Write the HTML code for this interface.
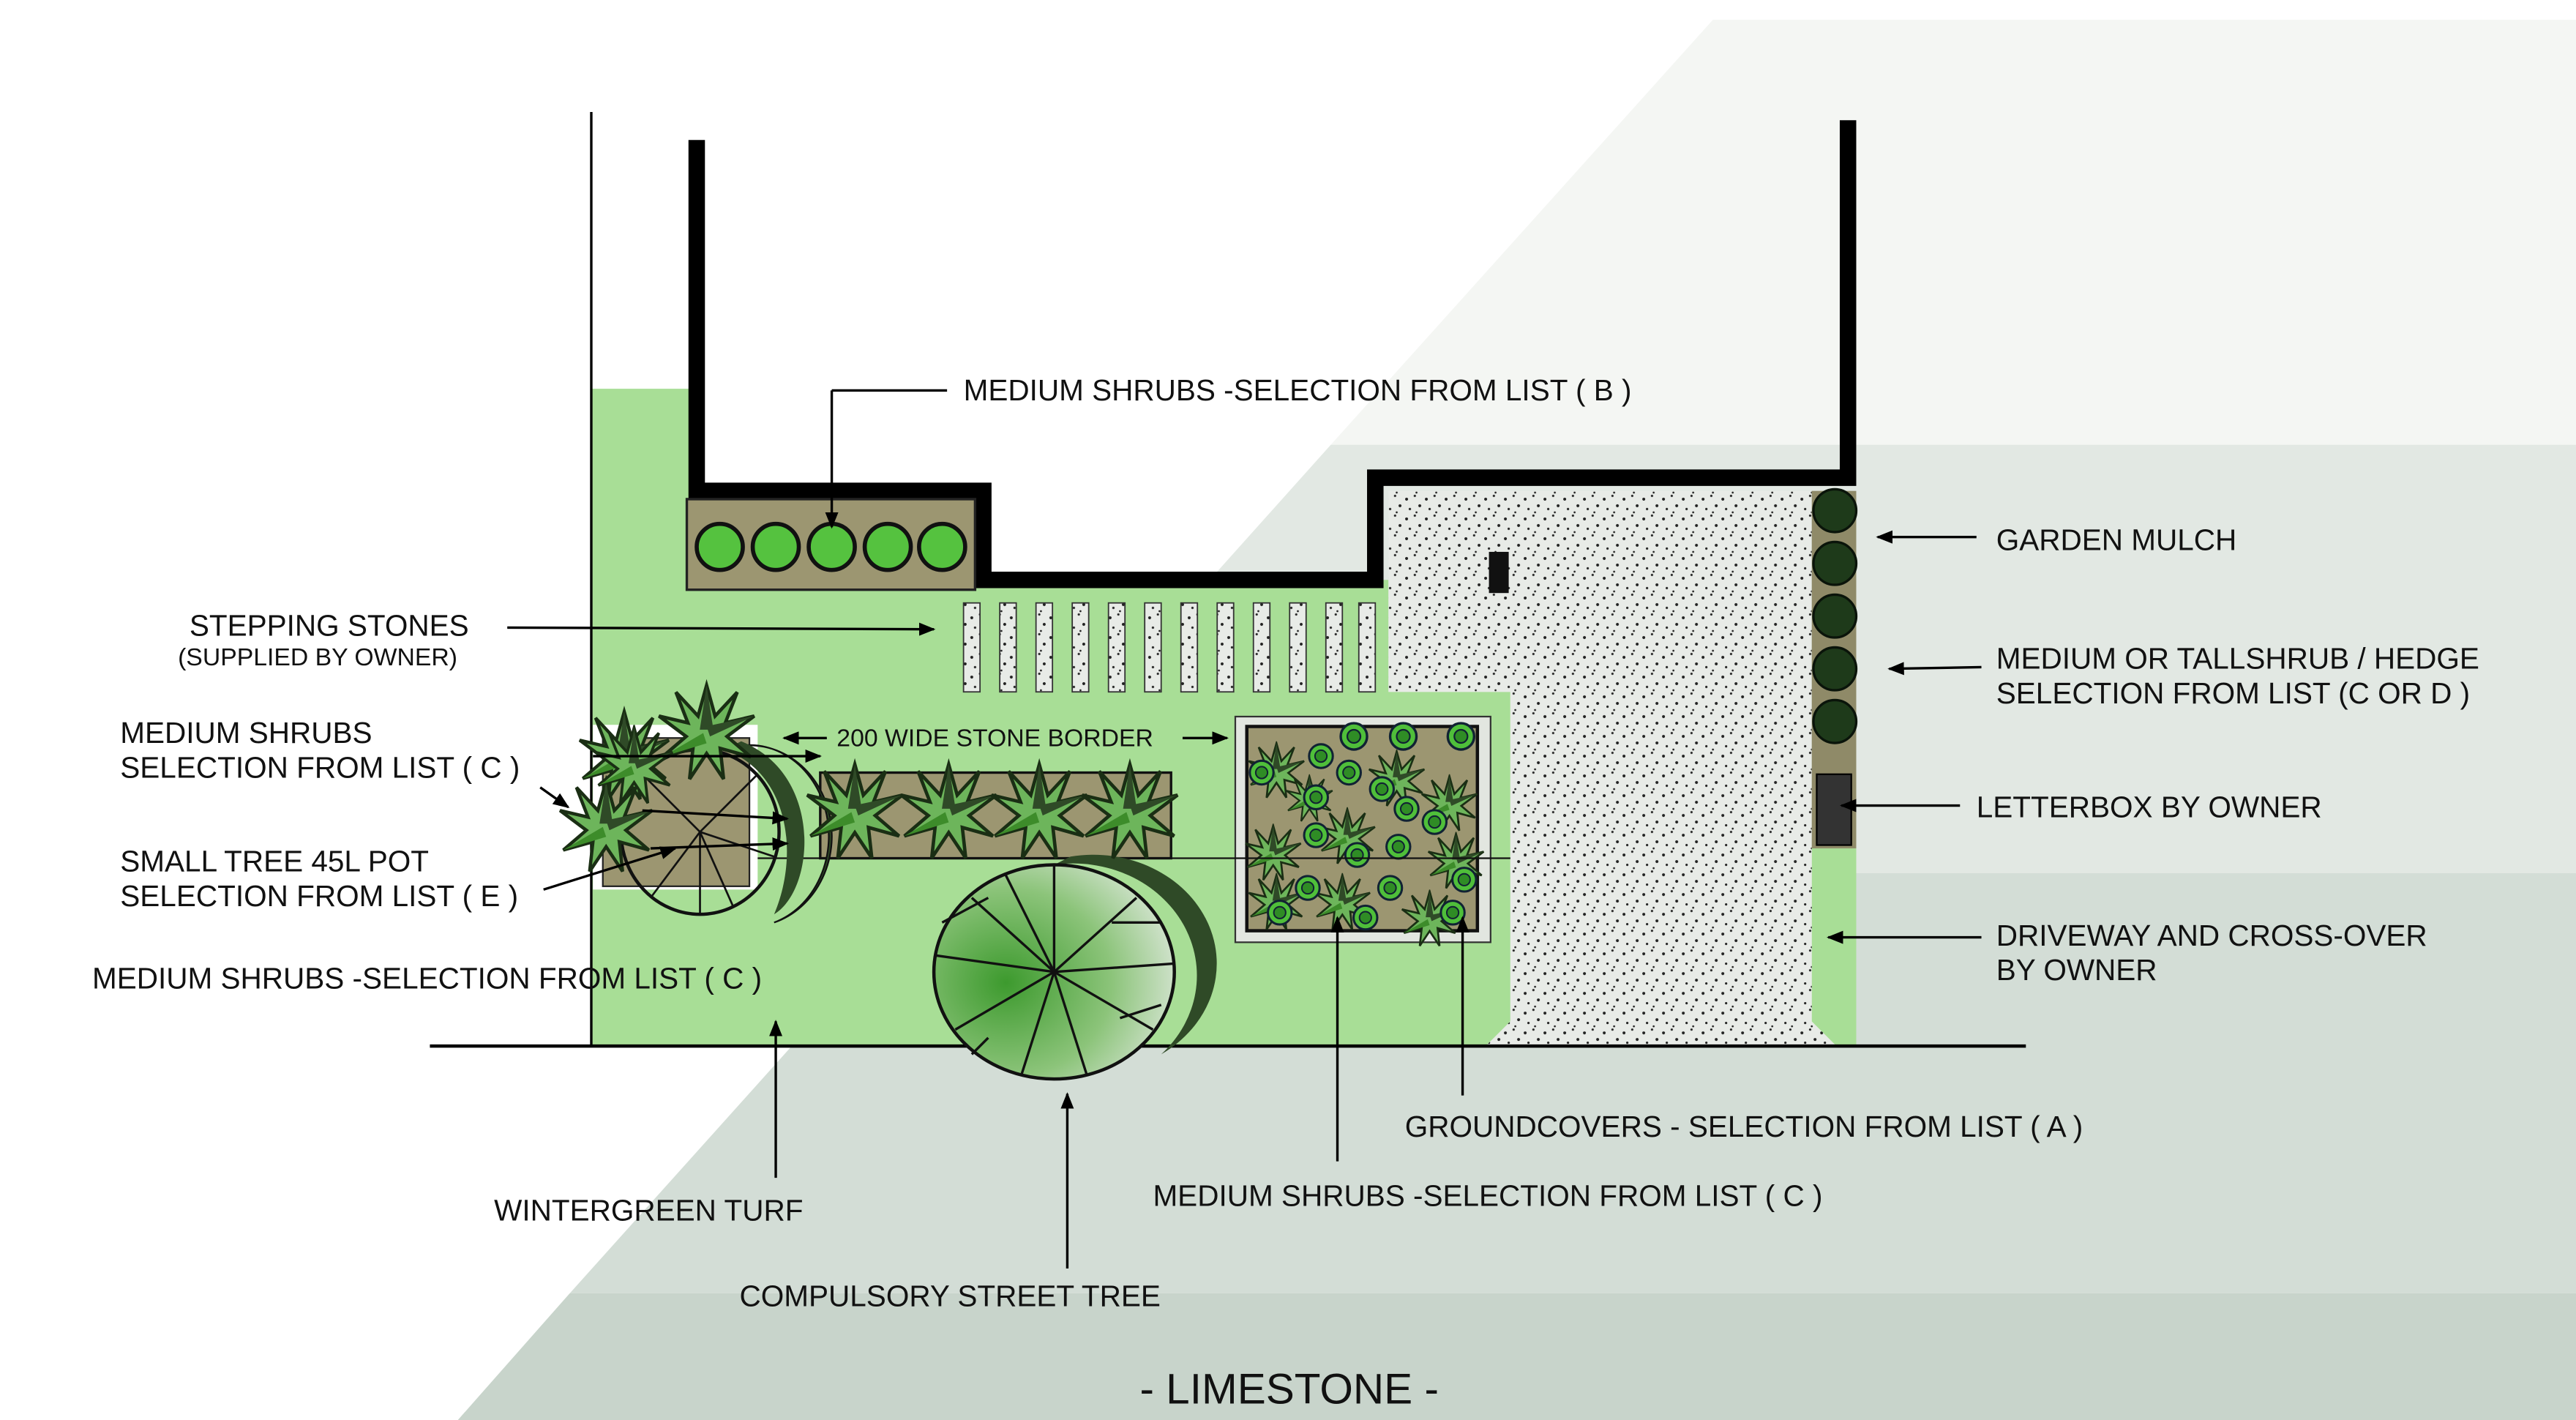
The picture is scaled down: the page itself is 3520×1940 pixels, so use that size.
<!DOCTYPE html>
<html><head><meta charset="utf-8"><style>
html,body{margin:0;padding:0;background:#fff;}
svg{display:block;}
text{font-family:"Liberation Sans",sans-serif;fill:#111;}
</style></head><body>
<svg width="3520" height="1940" viewBox="0 0 1564 862" preserveAspectRatio="none" xmlns="http://www.w3.org/2000/svg">
<defs>
<marker id="ar" markerWidth="10" markerHeight="8" refX="9" refY="4" orient="auto" markerUnits="userSpaceOnUse">
<path d="M0,0 L10,4 L0,8 Z" fill="#000"/></marker>
<radialGradient id="tg" cx="0.3" cy="0.55" r="0.8">
<stop offset="0" stop-color="#3d9a2e"/><stop offset="0.55" stop-color="#8cc47a"/><stop offset="1" stop-color="#e6ece6"/></radialGradient>
<pattern id="dots" width="12" height="12" patternUnits="userSpaceOnUse">
<rect width="12" height="12" fill="#e8ebe7"/>
<circle cx="2" cy="3" r="0.9" fill="#222"/><circle cx="7" cy="1" r="0.7" fill="#222"/><circle cx="10" cy="7" r="0.9" fill="#222"/><circle cx="4" cy="9" r="0.7" fill="#222"/><circle cx="8" cy="11" r="0.6" fill="#222"/></pattern>
<symbol id="star" viewBox="-30 -30 60 60">
<polygon points="0,-28 5,-10 18,-24 11,-6 28,-10 12,2 26,14 8,9 10,27 0,12 -10,27 -8,9 -26,14 -12,2 -28,-10 -11,-6 -18,-24 -5,-10" fill="#6db55b" stroke="#1a2e14" stroke-width="2"/>
<polygon points="0,-28 4,-2 -4,-2" fill="#2f4a27"/><polygon points="28,-10 2,2 0,-4" fill="#2f4a27"/><polygon points="-26,14 -2,0 0,6" fill="#3d8c2a"/>
</symbol>
<symbol id="gc" viewBox="-10 -10 20 20">
<circle r="8" fill="#4fbf3a" stroke="#123" stroke-width="1.5"/><circle r="4" fill="#2f8c25" stroke="#123" stroke-width="1"/></symbol>
</defs>
<!-- background bands -->
<rect width="1564" height="862" fill="#fff"/>
<polygon points="1040,12 1564,12 1564,270 808,270" fill="#f4f6f3"/>
<polygon points="808,270 1564,270 1564,530 575,530" fill="#e2e8e3"/>
<polygon points="575,530 1564,530 1564,785 346,785" fill="#d3ddd6"/>
<polygon points="346,785 1564,785 1564,862 278,862" fill="#c8d4cb"/>
<!-- turf -->
<path d="M359,236 L423,236 L423,298 L597,298 L597,352 L843,352 L843,420 L917,420 L917,620 L902,635 L359,635 Z" fill="#a8de96"/>
<rect x="1100" y="515" width="27" height="120" fill="#a8de96"/>
<!-- gravel -->
<path d="M843,298 L1100,298 L1100,620 L1115,635 L902,635 L917,620 L917,420 L843,420 Z" fill="url(#dots)"/>
<!-- walls -->
<line x1="359" y1="68" x2="359" y2="635" stroke="#000" stroke-width="1.5"/>
<polyline points="423,85 423,298 597,298 597,352 835,352 835,290 1122,290 1122,73" fill="none" stroke="#000" stroke-width="10"/>
<line x1="261" y1="635" x2="1230" y2="635" stroke="#000" stroke-width="2"/>
<rect x="904" y="335" width="12" height="25" fill="#111"/>
<!-- planter B -->
<rect x="417" y="303" width="175" height="55" fill="#9c9671" stroke="#222" stroke-width="1.5"/>
<g fill="#55c23f" stroke="#111" stroke-width="2.5">
<circle cx="437" cy="332" r="14"/><circle cx="471" cy="332" r="14"/><circle cx="505" cy="332" r="14"/><circle cx="539" cy="332" r="14"/><circle cx="572" cy="332" r="14"/></g>
<!-- hedge strip -->
<rect x="1100" y="298" width="27" height="217" fill="#8f8a68"/>
<g fill="#1e3a1a" stroke="#0a140a" stroke-width="1.5">
<circle cx="1114" cy="310" r="13"/><circle cx="1114" cy="342" r="13"/><circle cx="1114" cy="374" r="13"/><circle cx="1114" cy="406" r="13"/><circle cx="1114" cy="438" r="13"/></g>
<rect x="1103" y="470" width="21" height="43" fill="#333" stroke="#000"/>
<!-- stepping stones -->
<g fill="url(#dots)" stroke="#333" stroke-width="0.8">
<rect x="585" y="366" width="10" height="54"/><rect x="607" y="366" width="10" height="54"/><rect x="629" y="366" width="10" height="54"/><rect x="651" y="366" width="10" height="54"/><rect x="673" y="366" width="10" height="54"/><rect x="695" y="366" width="10" height="54"/><rect x="717" y="366" width="10" height="54"/><rect x="739" y="366" width="10" height="54"/><rect x="761" y="366" width="10" height="54"/><rect x="783" y="366" width="10" height="54"/><rect x="805" y="366" width="10" height="54"/><rect x="825" y="366" width="10" height="54"/></g>
<!-- groundcover planter -->
<rect x="750" y="435" width="155" height="137" fill="#e2e6e0" stroke="#333" stroke-width="1"/>
<rect x="757" y="441" width="140" height="124" fill="#9c9671" stroke="#111" stroke-width="2"/>
<g>
<use href="#star" x="757" y="450" width="36" height="36"/><use href="#star" x="830" y="455" width="36" height="36"/><use href="#star" x="862" y="470" width="36" height="36"/>
<use href="#star" x="755" y="500" width="36" height="36"/><use href="#star" x="800" y="490" width="36" height="36"/><use href="#star" x="866" y="505" width="36" height="36"/>
<use href="#star" x="757" y="530" width="36" height="36"/><use href="#star" x="797" y="530" width="36" height="36"/><use href="#star" x="850" y="540" width="36" height="36"/><use href="#star" x="780" y="470" width="30" height="30"/>
<use href="#gc" x="812" y="437" width="20" height="20"/><use href="#gc" x="842" y="437" width="20" height="20"/><use href="#gc" x="877" y="437" width="20" height="20"/>
<use href="#gc" x="793" y="450" width="18" height="18"/><use href="#gc" x="810" y="460" width="18" height="18"/><use href="#gc" x="757" y="460" width="18" height="18"/>
<use href="#gc" x="790" y="475" width="18" height="18"/><use href="#gc" x="845" y="482" width="18" height="18"/><use href="#gc" x="830" y="470" width="18" height="18"/>
<use href="#gc" x="790" y="498" width="18" height="18"/><use href="#gc" x="840" y="505" width="18" height="18"/><use href="#gc" x="862" y="490" width="18" height="18"/>
<use href="#gc" x="815" y="510" width="18" height="18"/><use href="#gc" x="785" y="530" width="18" height="18"/><use href="#gc" x="835" y="530" width="18" height="18"/>
<use href="#gc" x="880" y="525" width="18" height="18"/><use href="#gc" x="873" y="545" width="18" height="18"/><use href="#gc" x="768" y="545" width="18" height="18"/><use href="#gc" x="820" y="548" width="18" height="18"/></g>
<!-- border bed -->
<rect x="498" y="469" width="213" height="52" fill="#9c9671" stroke="#111" stroke-width="1.5"/>
<!-- thin line -->
<line x1="455" y1="521" x2="917" y2="521" stroke="#111" stroke-width="1"/>
<!-- street tree -->
<path d="M650,520 A75,66 0 0 1 705,640 A75,68 0 0 0 640,525 Z" fill="#2f4a27"/>
<ellipse cx="640" cy="590" rx="73" ry="65" fill="url(#tg)" stroke="#111" stroke-width="2"/>
<g stroke="#111" stroke-width="1.5">
<line x1="640" y1="590" x2="640" y2="525"/><line x1="640" y1="590" x2="690" y2="545"/><line x1="640" y1="590" x2="712" y2="585"/><line x1="640" y1="590" x2="700" y2="625"/><line x1="640" y1="590" x2="660" y2="653"/><line x1="640" y1="590" x2="620" y2="653"/><line x1="640" y1="590" x2="580" y2="625"/><line x1="640" y1="590" x2="568" y2="580"/><line x1="640" y1="590" x2="590" y2="545"/><line x1="640" y1="590" x2="610" y2="530"/>
<line x1="600" y1="545" x2="572" y2="560"/><line x1="680" y1="618" x2="705" y2="610"/><line x1="675" y1="560" x2="705" y2="560"/><line x1="600" y1="630" x2="590" y2="640"/></g>
<!-- small tree with pot -->
<rect x="360" y="440" width="100" height="100" fill="#fff"/>
<rect x="366" y="448" width="89" height="90" fill="#9c9671" stroke="#222" stroke-width="1"/>
<path d="M440,455 A50,55 0 0 1 470,560 A48,55 0 0 0 440,455 Z" fill="#2f4a27" stroke="#111"/>
<path d="M450,450 C500,470 495,540 470,555 C485,520 480,470 440,455 Z" fill="#2f4a27"/>
<ellipse cx="425" cy="505" rx="48" ry="50" fill="none" stroke="#111" stroke-width="2"/>
<g stroke="#111" stroke-width="1.2">
<line x1="425" y1="505" x2="390" y2="470"/><line x1="425" y1="505" x2="460" y2="470"/><line x1="425" y1="505" x2="395" y2="545"/><line x1="425" y1="505" x2="445" y2="550"/><line x1="425" y1="505" x2="425" y2="555"/><line x1="425" y1="505" x2="470" y2="520"/></g>
<!-- shrubs -->
<use href="#star" x="488" y="460" width="62" height="66"/><use href="#star" x="545" y="460" width="62" height="66"/><use href="#star" x="600" y="460" width="62" height="66"/><use href="#star" x="655" y="460" width="62" height="66"/>
<use href="#star" x="398" y="412" width="62" height="66"/><use href="#star" x="350" y="428" width="58" height="62"/><use href="#star" x="338" y="470" width="60" height="64"/><use href="#star" x="360" y="440" width="50" height="50"/>
<!-- internal arrows -->
<g stroke="#000" stroke-width="1.5" marker-end="url(#ar)">
<line x1="360" y1="459" x2="498" y2="459"/><line x1="390" y1="492" x2="478" y2="497"/><line x1="395" y1="515" x2="478" y2="512"/>
<line x1="328" y1="478" x2="345" y2="490"/><line x1="330" y1="540" x2="410" y2="515"/>
<line x1="505" y1="237" x2="505" y2="320" marker-end="url(#ar)"/>
<line x1="308" y1="381" x2="567" y2="382"/>
<line x1="502" y1="448" x2="476" y2="448"/><line x1="718" y1="448" x2="745" y2="448"/>
<line x1="471" y1="715" x2="471" y2="620"/><line x1="648" y1="770" x2="648" y2="664"/>
<line x1="812" y1="705" x2="812" y2="557"/><line x1="888" y1="665" x2="888" y2="557"/>
<line x1="1200" y1="326" x2="1140" y2="326"/><line x1="1203" y1="405" x2="1147" y2="406"/>
<line x1="1190" y1="489" x2="1118" y2="489"/><line x1="1203" y1="569" x2="1110" y2="569"/></g>
<line x1="505" y1="237" x2="575" y2="237" stroke="#000" stroke-width="1.5"/>
<!-- labels -->
<g font-size="18">
<text x="585" y="243">MEDIUM SHRUBS -SELECTION FROM LIST ( B )</text>
<text x="115" y="386">STEPPING STONES</text>
<text x="108" y="404" font-size="15">(SUPPLIED BY OWNER)</text>
<text x="73" y="451">MEDIUM SHRUBS</text>
<text x="73" y="472">SELECTION FROM LIST ( C )</text>
<text x="73" y="529">SMALL TREE 45L POT</text>
<text x="73" y="550">SELECTION FROM LIST ( E )</text>
<text x="56" y="600">MEDIUM SHRUBS -SELECTION FROM LIST ( C )</text>
<text x="508" y="453" font-size="15">200 WIDE STONE BORDER</text>
<text x="300" y="741">WINTERGREEN TURF</text>
<text x="449" y="793">COMPULSORY STREET TREE</text>
<text x="700" y="732">MEDIUM SHRUBS -SELECTION FROM LIST ( C )</text>
<text x="853" y="690">GROUNDCOVERS - SELECTION FROM LIST ( A )</text>
<text x="1212" y="334">GARDEN MULCH</text>
<text x="1212" y="406">MEDIUM OR TALLSHRUB / HEDGE</text>
<text x="1212" y="427">SELECTION FROM LIST (C OR D )</text>
<text x="1200" y="496">LETTERBOX BY OWNER</text>
<text x="1212" y="574">DRIVEWAY AND CROSS-OVER</text>
<text x="1212" y="595">BY OWNER</text>
<text x="692" y="852" font-size="26">- LIMESTONE -</text>
</g>
</svg>
</body></html>
